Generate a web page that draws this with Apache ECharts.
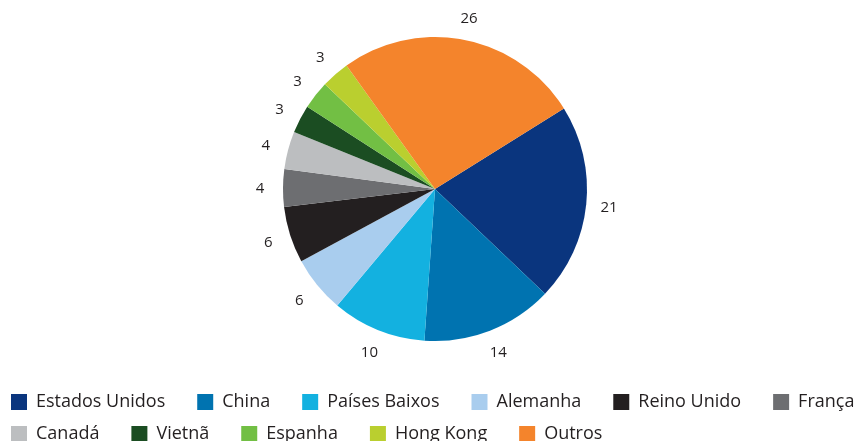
<!DOCTYPE html>
<html><head><meta charset="utf-8">
<script src="https://cdn.jsdelivr.net/npm/echarts@6/dist/echarts.min.js"></script>
<style>html,body{margin:0;padding:0;background:#fff}#c{width:856px;height:441px}</style>
</head><body><div id="c"></div>
<script>
var categories = ['Estados Unidos','China','Países Baixos','Alemanha','Reino Unido','França','Canadá','Vietnã','Espanha','Hong Kong','Outros'];
var values = [21,14,10,6,6,4,4,3,3,3,26];
var colors = ['#0a357e','#0073b0','#13b1e0','#a9cdee','#231f20','#6d6e71','#bcbec0','#1b4d22','#72bf44','#bacf2f','#f4842c'];
var legendRow1 = categories.slice(0,6);
var legendRow2 = categories.slice(6);

var font = '"Open Sans", sans-serif';
var data = categories.map(function(n,i){return {name:n, value:values[i], itemStyle:{color:colors[i]}};});
var labelData = categories.map(function(n,i){return {name:n, value:values[i]};});
function legendCfg(names, top){
  return {data:names, left:11, top:top, padding:0, orient:'horizontal', itemWidth:16, itemHeight:16, itemGap:32,
    icon:'rect', selectedMode:false,
    textStyle:{fontFamily:font, fontSize:18, color:'#231f20', padding:[0,0,0,4]}};
}
var chart = echarts.init(document.getElementById('c'));
chart.setOption({
  animation:false,
  legend:[legendCfg(legendRow1, 393), legendCfg(legendRow2, 425)],
  series:[
    {type:'pie', center:[435,189], radius:[0,152], startAngle:32, clockwise:true,
     label:{show:false}, labelLine:{show:false}, silent:true, data:data},
    {type:'pie', center:[435,190], radius:[160,184], startAngle:32, clockwise:true, silent:true,
     itemStyle:{color:'rgba(0,0,0,0)'}, legendHoverLink:false,
     label:{show:true, position:'inside', formatter:'{c}', fontFamily:font, fontSize:15, color:'#231f20'},
     labelLine:{show:false}, data:labelData}
  ]
});
</script></body></html>
